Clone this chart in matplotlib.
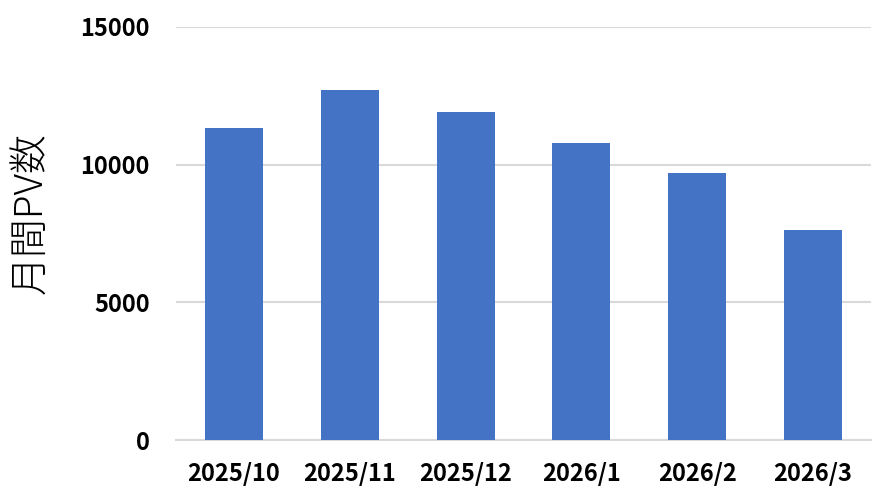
import matplotlib
matplotlib.use("Agg")
import matplotlib.pyplot as plt

plt.rcParams["font.family"] = ["Noto Sans CJK JP", "DejaVu Sans"]

months = ["2025/10", "2025/11", "2025/12", "2026/1", "2026/2", "2026/3"]
pv_counts = [11330, 12710, 11910, 10790, 9700, 7630]

fig = plt.figure(figsize=(8.94, 5.03), dpi=100)
ax = fig.add_axes([0.1969, 0.1247, 0.7774, 0.8218])

x = range(len(months))
ax.bar(x, pv_counts, width=0.5, color="#4472C4", zorder=3)

ax.set_xlim(-0.5, len(months) - 0.5)
ax.set_ylim(0, 15000)
ax.set_yticks([0, 5000, 10000, 15000])
ax.set_xticks(list(x))
ax.set_xticklabels(months)

# グリッドと枠線
ax.grid(axis="y", color="#d9d9d9", linewidth=1.5, zorder=0)
for side in ["top", "right", "left"]:
    ax.spines[side].set_visible(False)
ax.spines["bottom"].set_color("#d9d9d9")
ax.spines["bottom"].set_linewidth(1.5)

ax.tick_params(axis="both", length=0, labelsize=17)
ax.tick_params(axis="y", pad=19)
ax.tick_params(axis="x", pad=16)
for lbl in ax.get_xticklabels() + ax.get_yticklabels():
    lbl.set_fontweight("bold")

# 縦軸タイトル
fig.text(32 / 894, 1 - 213 / 503, "月間PV数", fontsize=28, fontweight="light",
         rotation=90, ha="center", va="center")

fig.savefig("out.png", dpi=100)
